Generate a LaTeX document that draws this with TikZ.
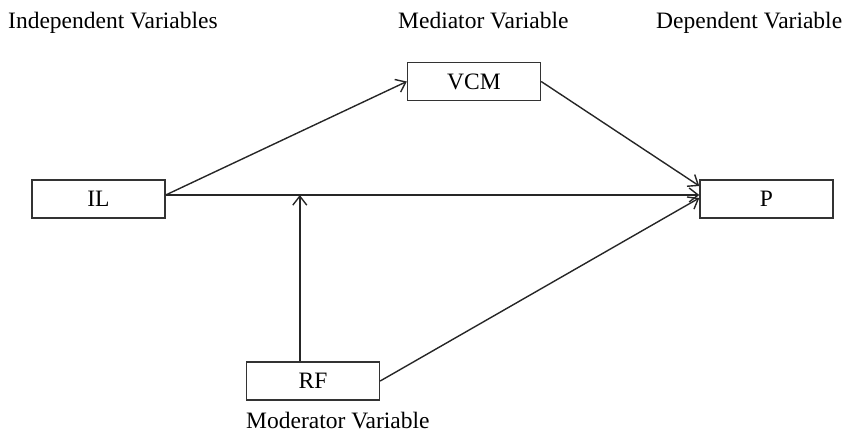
\documentclass[tikz,border=0pt]{standalone}
\usepackage{fontspec}
\setmainfont{Liberation Serif}
\usetikzlibrary{arrows.meta}
\begin{document}
\begin{tikzpicture}[x=1pt,y=-1pt,
  varbox/.style={draw=black!80,line width=1.4pt,minimum width=133pt,minimum height=38pt,inner sep=0pt,font=\fontsize{23.5}{26}\selectfont},
  lbl/.style={inner sep=0pt,anchor=base west,font=\fontsize{23.5}{26}\selectfont},
  conn/.style={draw=black!85,line width=1.4pt,-{Straight Barb[length=9pt,width=14pt,line width=1.4pt]}}]
\useasboundingbox (0,0) rectangle (850,434);
\node[varbox] (IL) at (98.5,199) {IL};
\node[varbox] (VCM) at (474,81.5) {VCM};
\node[varbox] (P) at (766.5,199) {P};
\node[varbox] (RF) at (313,381) {RF};
\node[lbl] (l1) at (8,28) {Independent Variables};
\node[lbl] (l2) at (398,28) {Mediator Variable};
\node[lbl] (l3) at (656,28) {Dependent Variable};
\node[lbl] (l4) at (246,428) {Moderator Variable};
\coordinate (ILo) at ([yshift=4pt]IL.east);
\coordinate (Pin) at ([yshift=4pt]P.west);
\coordinate (Ja) at ([xshift=54pt]RF.north west);
\coordinate (Jb) at (ILo -| Ja);
\draw[conn] (ILo) -- (VCM.west);
\draw[conn] (ILo) -- (Pin);
\draw[conn] (VCM.east) -- ([yshift=13pt]P.west);
\draw[conn] (RF.east) -- ([yshift=1pt]P.west);
\draw[conn] (Ja) -- (Jb);
\end{tikzpicture}
\end{document}
